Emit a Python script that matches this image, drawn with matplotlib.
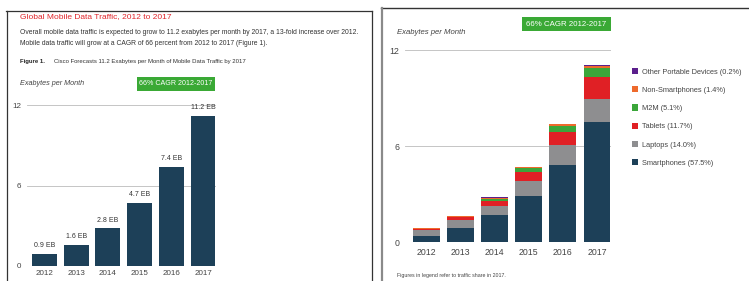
import matplotlib
matplotlib.use("Agg")
import matplotlib.pyplot as plt
from matplotlib.patches import Rectangle
from matplotlib.lines import Line2D

plt.rcParams['font.family'] = ['Liberation Sans', 'DejaVu Sans']

W, H = 749, 281

# ---------------- data ----------------
years = ["2012", "2013", "2014", "2015", "2016", "2017"]
total_eb = [0.9, 1.6, 2.8, 4.7, 7.4, 11.2]
total_labels = ["0.9 EB", "1.6 EB", "2.8 EB", "4.7 EB", "7.4 EB", "11.2 EB"]

seg_names = ["Smartphones (57.5%)", "Laptops (14.0%)", "Tablets (11.7%)",
             "M2M (5.1%)", "Non-Smartphones (1.4%)", "Other Portable Devices (0.2%)"]
smartphones = [0.40, 0.90, 1.70, 2.90, 4.80, 7.50]
laptops     = [0.35, 0.50, 0.55, 0.90, 1.25, 1.45]
tablets     = [0.06, 0.15, 0.30, 0.60, 0.85, 1.35]
m2m         = [0.03, 0.04, 0.12, 0.20, 0.35, 0.57]
nonsmart    = [0.05, 0.04, 0.10, 0.08, 0.12, 0.16]
other       = [0.01, 0.01, 0.02, 0.02, 0.03, 0.03]
yticks = [0, 6, 12]

navy = "#1d4058"
seg_colors = [navy, "#8e8e90", "#e02025", "#3ba63a", "#ee6a2c", "#5b1f8c"]
green = "#3aa935"

fig = plt.figure(figsize=(W / 100, H / 100), dpi=100)
fig.patch.set_facecolor("white")


def rect(x0, y0, x1, y1):
    return [x0 / W, 1 - y1 / H, (x1 - x0) / W, (y1 - y0) / H]


def ftext(x, y, s, **kw):
    fig.text(x / W, 1 - y / H, s, **kw)


def fline(x0, y0, x1, y1, **kw):
    fig.add_artist(Line2D([x0 / W, x1 / W], [1 - y0 / H, 1 - y1 / H],
                          transform=fig.transFigure, **kw))


def fbox(x0, y0, x1, y1, **kw):
    fig.add_artist(Rectangle((x0 / W, 1 - y1 / H), (x1 - x0) / W, (y1 - y0) / H,
                             transform=fig.transFigure, **kw))


# ---------------- panel frames ----------------
fline(6, 10.5, 372, 10.5, color="#333333", lw=0.9)
fline(6.5, 10.5, 6.5, 281, color="#333333", lw=0.9)
fline(372, 10.5, 372, 281, color="#333333", lw=0.9)
fline(381, 8, 749, 8, color="#333333", lw=1.0)
fline(381.5, 8, 381.5, 281, color="#8a8a8a", lw=1.6)

# ---------------- left panel texts ----------------
ftext(20, 17, "Global Mobile Data Traffic, 2012 to 2017", color="#e0252b",
      fontsize=6.0, va="center", ha="left")
ftext(20, 33, "Overall mobile data traffic is expected to grow to 11.2 exabytes per month by 2017, a 13-fold increase over 2012.",
      color="#333333", fontsize=4.9, va="center", ha="left")
ftext(20, 44, "Mobile data traffic will grow at a CAGR of 66 percent from 2012 to 2017 (Figure 1).",
      color="#333333", fontsize=4.9, va="center", ha="left")
ftext(20, 62, "Figure 1.", color="#222222", fontsize=4.3, fontweight="bold",
      va="center", ha="left")
ftext(54, 62, "Cisco Forecasts 11.2 Exabytes per Month of Mobile Data Traffic by 2017",
      color="#333333", fontsize=4.3, va="center", ha="left")
ftext(20, 84, "Exabytes per Month", color="#444444", fontsize=5.2, style="italic",
      va="center", ha="left")
fbox(137, 77, 215, 91, facecolor=green, edgecolor="none")
ftext(176, 84, "66% CAGR 2012-2017", color="white", fontsize=5.1,
      va="center", ha="center")

# ---------------- left chart ----------------
axL = fig.add_axes(rect(27, 105, 216, 266))
xs = list(range(len(years)))
axL.bar(xs, total_eb, width=0.78, color=navy, zorder=3)
for x, v, lab in zip(xs, total_eb, total_labels):
    axL.text(x, v + 0.35, lab, ha="center", va="bottom", fontsize=5.0, color="#333333")
axL.set_xlim(-0.55, 5.41)
axL.set_ylim(0, 12)
axL.set_yticks(yticks)
axL.set_yticklabels([str(t) for t in yticks])
axL.set_xticks(xs)
axL.set_xticklabels(years)
axL.grid(axis="y", color="#bbbbbb", lw=0.6, zorder=0)
for s in axL.spines.values():
    s.set_visible(False)
axL.tick_params(length=0, labelsize=5.8, labelcolor="#444444")
axL.tick_params(axis="y", pad=4)
axL.tick_params(axis="x", pad=3)
axL.set_facecolor("none")

# ---------------- right panel ----------------
ftext(397, 33, "Exabytes per Month", color="#444444", fontsize=5.6, style="italic",
      va="center", ha="left")
fbox(522, 17, 611, 31, facecolor=green, edgecolor="none")
ftext(566.5, 24, "66% CAGR 2012-2017", color="white", fontsize=5.7,
      va="center", ha="center")

axR = fig.add_axes(rect(405, 50, 611, 242))
series = [smartphones, laptops, tablets, m2m, nonsmart, other]
bottom = [0.0] * len(years)
handles = []
for vals, col, name in zip(series, seg_colors, seg_names):
    b = axR.bar(xs, vals, bottom=bottom, width=0.79, color=col, zorder=3, label=name)
    handles.append(b)
    bottom = [bb + v for bb, v in zip(bottom, vals)]
axR.set_xlim(-0.63, 5.41)
axR.set_ylim(0, 12)
axR.set_yticks(yticks)
axR.set_yticklabels([str(t) for t in yticks])
axR.set_xticks(xs)
axR.set_xticklabels(years)
axR.grid(axis="y", color="#bbbbbb", lw=0.6, zorder=0)
for s in axR.spines.values():
    s.set_visible(False)
axR.tick_params(length=0, labelsize=6.3, labelcolor="#444444")
axR.tick_params(axis="y", pad=4)
axR.tick_params(axis="x", pad=4)
axR.set_facecolor("none")

leg = fig.legend(handles[::-1], seg_names[::-1], loc="upper left",
                 bbox_to_anchor=(629 / W, 1 - 65 / H), frameon=False,
                 fontsize=5.3, handlelength=0.8, handleheight=0.9,
                 handletextpad=0.5, labelspacing=1.45, borderaxespad=0)
for t in leg.get_texts():
    t.set_color("#444444")

ftext(397, 276, "Figures in legend refer to traffic share in 2017.", color="#444444",
      fontsize=3.8, va="center", ha="left")

fig.savefig("out.png", dpi=100, facecolor="white")
